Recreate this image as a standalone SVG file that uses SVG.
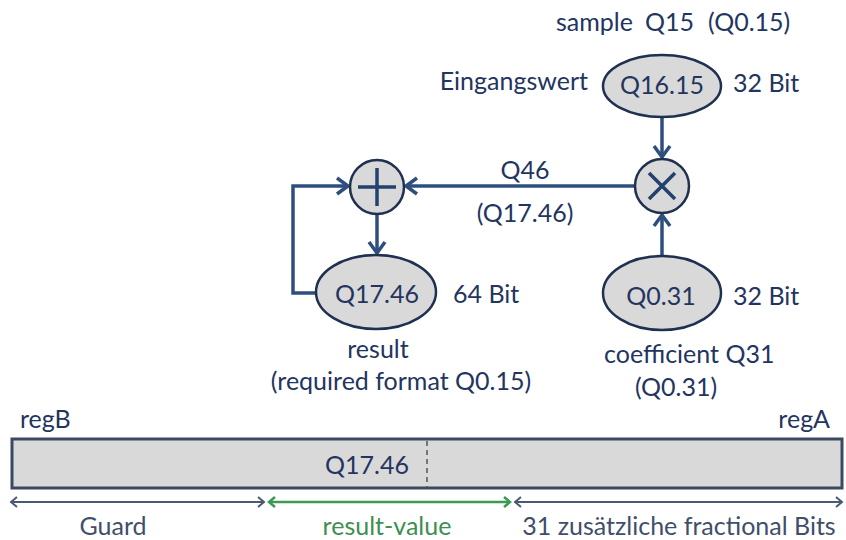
<svg xmlns="http://www.w3.org/2000/svg" width="846" height="540" viewBox="0 0 846 540">
<style>
text{font-family:Lato,"Open Sans","Liberation Sans",sans-serif;font-size:25px;fill:#23355f}
.node{fill:#d9d9d9;stroke:#1f3050;stroke-width:2.5}
.conn{fill:none;stroke:#2e4f7e;stroke-width:3.5}
.op{stroke:#22416e;stroke-width:3.5;fill:none}
.dim{fill:none;stroke:#4a5a72;stroke-width:2}
.dimg{fill:none;stroke:#3d9a55;stroke-width:2.5}
</style>
<defs>
<marker id="ah" markerUnits="userSpaceOnUse" markerWidth="22" markerHeight="22" viewBox="-15 -11 17 22" refX="0" refY="0" orient="auto">
<path d="M-11,-8 L0,0 L-11,8" fill="none" stroke="#2e4f7e" stroke-width="3.5"/>
</marker>
<marker id="dh" markerUnits="userSpaceOnUse" markerWidth="16" markerHeight="16" viewBox="-10 -8 12 16" refX="0" refY="0" orient="auto-start-reverse">
<path d="M-6,-5 L0,0 L-6,5" fill="none" stroke="#4a5a72" stroke-width="2"/>
</marker>
<marker id="gh" markerUnits="userSpaceOnUse" markerWidth="16" markerHeight="16" viewBox="-10 -8 12 16" refX="0" refY="0" orient="auto-start-reverse">
<path d="M-6,-5 L0,0 L-6,5" fill="none" stroke="#3d9a55" stroke-width="2.5"/>
</marker>
</defs>

<g id="connectors">
<line class="conn" x1="662" y1="117" x2="662" y2="157" marker-end="url(#ah)"/>
<line class="conn" x1="662" y1="256" x2="662" y2="215" marker-end="url(#ah)"/>
<line class="conn" x1="635" y1="186" x2="406" y2="186" marker-end="url(#ah)"/>
<line class="conn" x1="377" y1="214" x2="377" y2="253" marker-end="url(#ah)"/>
<polyline class="conn" points="317,293 293,293 293,186 348,186" marker-end="url(#ah)"/>
</g>

<g id="sample">
<ellipse class="node" cx="662" cy="86" rx="59" ry="31"/>
<text x="662" y="94" text-anchor="middle">Q16.15</text>
<text x="556" y="31">sample</text>
<text x="645" y="31">Q15</text>
<text x="708" y="31">(Q0.15)</text>
<text x="588" y="90" text-anchor="end">Eingangswert</text>
<text x="733" y="92">32 Bit</text>
</g>

<g id="mult">
<circle class="node" cx="662" cy="186" r="27"/>
<path class="op" d="M649,173 L675,199 M675,173 L649,199"/>
</g>

<g id="add">
<circle class="node" cx="377" cy="187" r="27"/>
<path class="op" d="M377,168 V206 M358,187 H396"/>
</g>

<g id="product-label">
<text x="525" y="179" text-anchor="middle">Q46</text>
<text x="525" y="222" text-anchor="middle">(Q17.46)</text>
</g>

<g id="result">
<ellipse class="node" cx="376" cy="292" rx="60" ry="37"/>
<text x="377" y="303" text-anchor="middle">Q17.46</text>
<text x="453" y="303">64 Bit</text>
<text x="378" y="358" text-anchor="middle">result</text>
<text x="401" y="390" text-anchor="middle">(required format Q0.15)</text>
</g>

<g id="coefficient">
<ellipse class="node" cx="662" cy="293" rx="59" ry="37"/>
<text x="661" y="305" text-anchor="middle">Q0.31</text>
<text x="733" y="305">32 Bit</text>
<text x="604" y="363">coefficient Q31</text>
<text x="676" y="396" text-anchor="middle">(Q0.31)</text>
</g>

<g id="register">
<text x="20" y="428">regB</text>
<text x="830" y="428" text-anchor="end">regA</text>
<rect x="12" y="439" width="830" height="49" fill="#d9d9d9" stroke="#3b4a60" stroke-width="3"/>
<line x1="427" y1="441" x2="427" y2="487" stroke="#555" stroke-width="1.5" stroke-dasharray="5,4"/>
<text x="367" y="474" text-anchor="middle">Q17.46</text>
</g>

<g id="ranges">
<line class="dim" x1="11" y1="502" x2="264" y2="502" marker-start="url(#dh)" marker-end="url(#dh)"/>
<line class="dimg" x1="269" y1="502" x2="510" y2="502" marker-start="url(#gh)" marker-end="url(#gh)"/>
<line class="dim" x1="515" y1="502" x2="842" y2="502" marker-start="url(#dh)" marker-end="url(#dh)"/>
<text x="113" y="535" text-anchor="middle" style="fill:#3f4f6b">Guard</text>
<text x="387" y="535" text-anchor="middle" style="fill:#3d8f52">result-value</text>
<text x="679" y="535" text-anchor="middle" style="fill:#3f4f6b">31 zusätzliche fractional Bits</text>
</g>
</svg>
